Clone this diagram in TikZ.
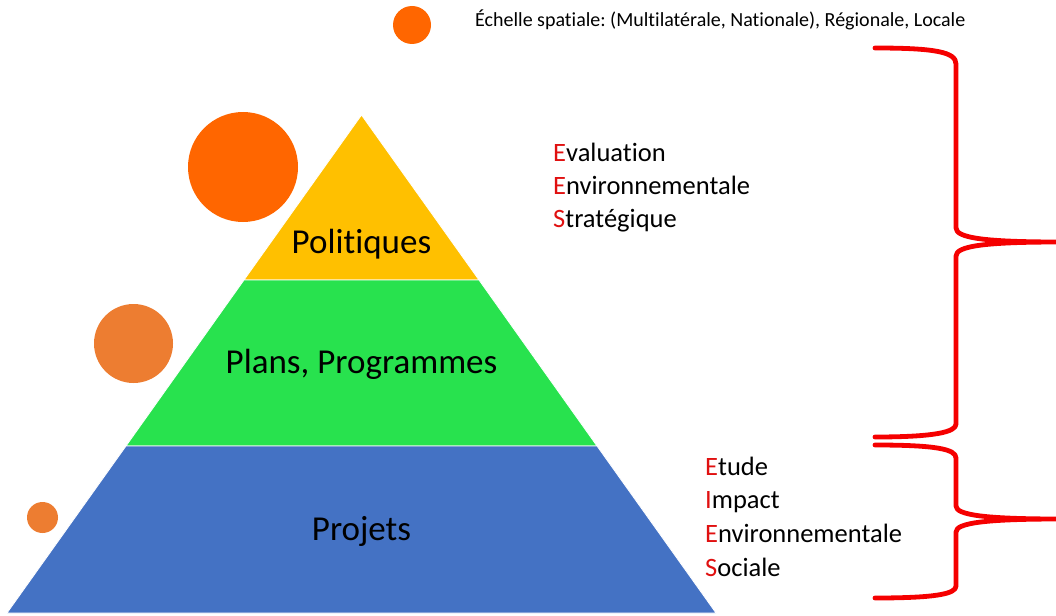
\documentclass[tikz,border=0pt]{standalone}
\usepackage{fontspec}
\setmainfont{Carlito}[Ligatures=NoCommon]
\frenchspacing
\definecolor{polY}{HTML}{FFC000}
\definecolor{planG}{HTML}{28E24E}
\definecolor{projB}{HTML}{4472C4}
\definecolor{orA}{HTML}{FF6600}
\definecolor{orB}{HTML}{ED7D31}
\definecolor{braceR}{HTML}{F50000}
\definecolor{letR}{HTML}{E01010}
\begin{document}
\begin{tikzpicture}[x=1pt,y=-1pt,
  band/.style={draw=white,line width=0.8pt},
  bigtxt/.style={anchor=base,font=\fontsize{35}{40}\selectfont,text=black,inner sep=0pt},
  acr/.style={anchor=base west,font=\fontsize{26.5}{33}\selectfont,text=black,inner sep=0pt},
  brc/.style={draw=braceR,line width=4.8pt,line cap=round,line join=round},
  dot/.style={circle,inner sep=0pt,minimum size=#1}]
\useasboundingbox (0,0) rectangle (1056,615);
% pyramid bands
\coordinate (apex) at (361.5,115);
\filldraw[band,fill=polY] (apex) -- (479,280) -- (244,280) -- cycle;
\filldraw[band,fill=planG] (244,280) -- (479,280) -- (597,446) -- (126,446) -- cycle;
\filldraw[band,fill=projB] (126,446) -- (597,446) -- (716,613) -- (7,613) -- cycle;
\node[bigtxt] (pol) at (361.5,253) {Politiques};
\node[bigtxt] (plan) at (361.5,373) {Plans, Programmes};
\node[bigtxt] (proj) at (361.5,540) {Projets};
% circles
\node[dot=38pt,fill=orA] (c0) at (412,25) {};
\node[dot=110pt,fill=orA] (c1) at (243,167) {};
\node[dot=79pt,fill=orB] (c2) at (133.5,343.5) {};
\node[dot=31pt,fill=orB] (c3) at (42.5,517.5) {};
% top label
\node[anchor=base west,inner sep=0pt,font=\fontsize{20}{24}\selectfont] (scale) at (475,27)
  {Échelle spatiale: (Multilatérale, Nationale), Régionale, Locale};
% acronyms
\node[acr] (e1) at (553,161) {\textcolor{letR}{E}valuation};
\node[acr] (e2) at (553,194) {\textcolor{letR}{E}nvironnementale};
\node[acr] (e3) at (553,227) {\textcolor{letR}{S}tratégique};
\node[acr] (i1) at (705,475) {\textcolor{letR}{E}tude};
\node[acr] (i2) at (705,508) {\textcolor{letR}{I}mpact};
\node[acr] (i3) at (705,542) {\textcolor{letR}{E}nvironnementale};
\node[acr] (i4) at (705,576) {\textcolor{letR}{S}ociale};
% braces
\draw[brc] (875,48) .. controls (935,48) and (956,52) .. (956,64)
  -- (956,228) .. controls (956,238) and (985,242) .. (1060,242)
  (1060,242) .. controls (985,242) and (956,246) .. (956,256)
  -- (956,424) .. controls (956,432) and (935,437) .. (875,437);
\draw[brc] (875,445) .. controls (935,445) and (956,449) .. (956,458)
  -- (956,506) .. controls (956,515) and (985,519) .. (1060,519)
  (1060,519) .. controls (985,519) and (956,523) .. (956,532)
  -- (956,586) .. controls (956,594) and (935,598) .. (875,598);
\end{tikzpicture}
\end{document}
